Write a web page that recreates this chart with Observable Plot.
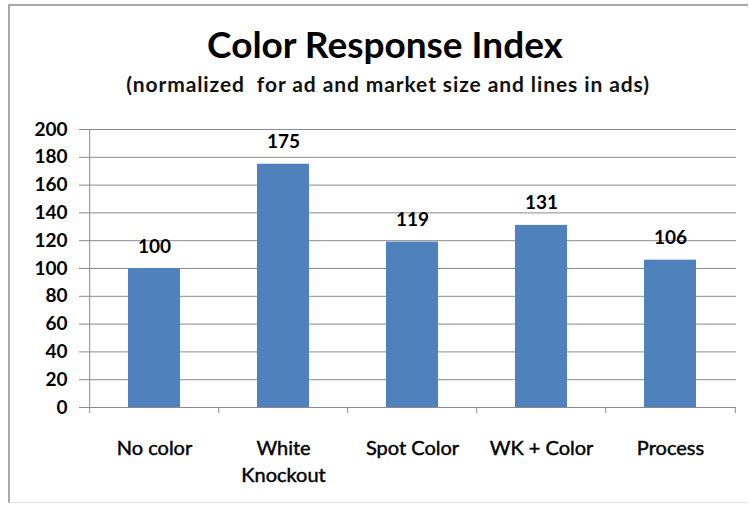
<!DOCTYPE html>
<html>
<head>
<meta charset="utf-8">
<script src="https://cdn.jsdelivr.net/npm/d3@7"></script>
<script src="https://cdn.jsdelivr.net/npm/@observablehq/plot@0.6"></script>
<style>
  html, body { margin: 0; padding: 0; background: #fff; }
  #wrap { position: relative; width: 749px; height: 506px; overflow: hidden; font-family: Lato, "DejaVu Sans", sans-serif; }
  #frame { position: absolute; left: 8px; top: 4px; width: 740px; height: 499px;
           border-left: 2px solid #a8a8a8; border-top: 2px solid #a8a8a8; border-bottom: 1px solid #e4e4e4; box-sizing: border-box; }
  #title { position: absolute; left: 0; width: 770px; top: 25px; text-align: center;
           font-size: 37px; font-weight: bold; line-height: 1; color: #000; }
  #subtitle { position: absolute; left: 0; width: 776px; top: 73px; text-align: center;
              font-size: 21px; font-weight: bold; line-height: 1; letter-spacing: 0.9px; color: #111; }
  #chart { position: absolute; left: 0; top: 0; }
  .xlab text { paint-order: stroke; stroke: #000; stroke-width: 0.45px; }
</style>
</head>
<body>
<div id="wrap">
  <div id="frame"></div>
  <div id="title">Color Response Index</div>
  <div id="subtitle">(normalized&nbsp; for ad and market size and lines in ads)</div>
  <div id="chart"></div>
</div>
<script>
const categories = ["No color", "White Knockout", "Spot Color", "WK + Color", "Process"];
const values = [100, 175, 119, 131, 106];
const xTickLabels = ["No color", "White\nKnockout", "Spot Color", "WK + Color", "Process"];
const yTicks = [0, 20, 40, 60, 80, 100, 120, 140, 160, 180, 200];

const data = categories.map((c, i) => ({category: c, value: values[i], label: xTickLabels[i]}));

const W = 749, H = 506, mL = 88, mR = 13, mT = 129, mB = 99;
const pIn = 0.6, pOut = 0.3;
const step = (W - mL - mR) / (categories.length - pIn + 2 * pOut);
const gray = "#8a8a8a";
const font = "Lato, 'DejaVu Sans', sans-serif";

const chart = Plot.plot({
  width: W,
  height: H,
  marginLeft: mL,
  marginRight: mR,
  marginTop: mT,
  marginBottom: mB,
  style: {fontFamily: font, background: "transparent", overflow: "visible"},
  x: {domain: categories, paddingInner: pIn, paddingOuter: pOut},
  y: {domain: [0, 200]},
  marks: [
    Plot.gridY(yTicks, {stroke: gray, strokeOpacity: 1, strokeWidth: 1}),
    Plot.barY(data, {x: "category", y: "value", fill: "#4F81BD"}),
    Plot.ruleY([0], {stroke: gray, strokeWidth: 1}),
    // y axis line
    Plot.ruleX([categories[0]], {x: d => d, y1: 0, y2: 200, dx: -step / 2, stroke: gray}),
    // category boundary ticks
    Plot.ruleX(categories, {x: d => d, y1: 0, y2: 0, dx: -step / 2, insetBottom: -6, stroke: gray}),
    Plot.ruleX([categories[categories.length - 1]], {x: d => d, y1: 0, y2: 0, dx: step / 2, insetBottom: -6, stroke: gray}),
    Plot.axisY({ticks: yTicks, tickSize: 9, tickPadding: 12, stroke: gray, fontSize: 19, fontWeight: "bold", fill: "#000", label: null}),
    Plot.axisX({tickSize: 0, tickPadding: 28, fontSize: 20, fontWeight: "normal", fill: "#000", lineHeight: 1.35, label: null,
                className: "xlab", tickFormat: (d) => xTickLabels[categories.indexOf(d)]}),
    Plot.text(data, {x: "category", y: "value", text: d => String(d.value), dy: -16, lineAnchor: "bottom",
                     fontSize: 19, fontWeight: "bold", fill: "#000"})
  ]
});
document.getElementById("chart").appendChild(chart);
</script>
</body>
</html>
